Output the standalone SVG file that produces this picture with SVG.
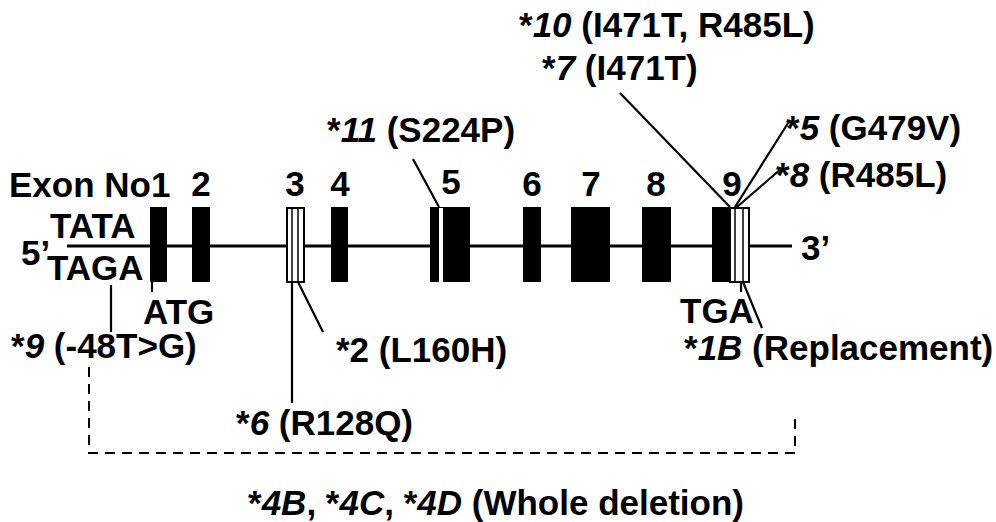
<svg xmlns="http://www.w3.org/2000/svg" width="996" height="522" viewBox="0 0 996 522">
<style>
text{font-family:"Liberation Sans",Arial,sans-serif;font-weight:bold;font-size:35px;fill:#000}
.i{font-style:italic}
.mid{text-anchor:middle}
.ex{fill:#000;stroke:none}
.wx{fill:#fff;stroke:#000;stroke-width:2}
.thin{stroke:#000;stroke-width:1.5;fill:none}
.ln{stroke:#000;stroke-width:2.2;fill:none}
.dash{stroke:#000;stroke-width:2;fill:none;stroke-dasharray:10 7}
</style>
<rect width="996" height="522" fill="#fff"/>
<g id="gene">
<line x1="67" y1="246" x2="792" y2="246" stroke="#000" stroke-width="2.8"/>
<text x="21" y="265">5’</text>
<text x="50" y="238">TATA</text>
<text x="47" y="280">TAGA</text>
<text x="801" y="260">3’</text>
<text x="9" y="197">Exon No1</text>
</g>
<g id="exon1"><rect class="ex" x="150" y="207" width="17" height="75"/></g>
<g id="exon2"><rect class="ex" x="192" y="207" width="18" height="75"/><text class="mid" x="201" y="196">2</text></g>
<g id="exon3"><rect class="wx" x="287" y="208" width="17" height="74"/><line class="thin" x1="292" y1="208" x2="292" y2="282"/><line class="thin" x1="298" y1="208" x2="298" y2="282"/><text class="mid" x="295" y="196">3</text></g>
<g id="exon4"><rect class="ex" x="331" y="207" width="17" height="75"/><text class="mid" x="340" y="196">4</text></g>
<g id="exon5"><rect class="ex" x="430" y="207" width="40" height="75"/><rect fill="#fff" x="439" y="208" width="4" height="74"/><text class="mid" x="451" y="194">5</text></g>
<g id="exon6"><rect class="ex" x="523" y="207" width="18" height="75"/><text class="mid" x="532" y="196">6</text></g>
<g id="exon7"><rect class="ex" x="571" y="207" width="39" height="75"/><text class="mid" x="591" y="196">7</text></g>
<g id="exon8"><rect class="ex" x="642" y="207" width="29" height="75"/><text class="mid" x="656" y="196">8</text></g>
<g id="exon9"><rect class="ex" x="712" y="207" width="18" height="75"/><rect class="wx" x="730" y="208" width="19" height="74"/><line class="thin" x1="735" y1="208" x2="735" y2="282"/><line class="thin" x1="743" y1="208" x2="743" y2="282"/><text class="mid" x="732" y="196">9</text></g>
<g id="connectors">
<line class="ln" x1="111" y1="285" x2="111" y2="332"/>
<line class="ln" x1="152" y1="282" x2="152" y2="292"/>
<line class="ln" x1="292" y1="282" x2="292" y2="403"/>
<line class="ln" x1="298" y1="282" x2="323" y2="332"/>
<line class="ln" x1="413" y1="159" x2="439" y2="207"/>
<line class="ln" x1="620" y1="93" x2="730" y2="207"/>
<line class="ln" x1="735" y1="207" x2="790" y2="120"/>
<line class="ln" x1="737" y1="207" x2="782" y2="168"/>
<line class="ln" x1="741" y1="282" x2="741" y2="292"/>
<line class="ln" x1="743" y1="282" x2="762" y2="328"/>
<polyline class="dash" points="89,367 89,453 795,453 795,413"/>
</g>
<g id="labels">
<text x="519" y="37">*<tspan class="i">10</tspan> (I471T, R485L)</text>
<text x="542" y="80">*<tspan class="i">7</tspan> (I471T)</text>
<text x="327" y="142">*<tspan class="i">11</tspan> (S224P)</text>
<text x="786" y="140">*<tspan class="i">5</tspan> (G479V)</text>
<text x="776" y="187">*<tspan class="i">8</tspan> (R485L)</text>
<text x="143" y="324">ATG</text>
<text x="680" y="323">TGA</text>
<text x="11" y="358">*<tspan class="i">9</tspan> (-48T&gt;G)</text>
<text x="336" y="362">*2 (L160H)</text>
<text x="684" y="360">*<tspan class="i">1B</tspan> (Replacement)</text>
<text x="236" y="435">*<tspan class="i">6</tspan> (R128Q)</text>
<text class="mid" x="496" y="515">*<tspan class="i">4B</tspan>, *<tspan class="i">4C</tspan>, *<tspan class="i">4D</tspan> (Whole deletion)</text>
</g>
</svg>
